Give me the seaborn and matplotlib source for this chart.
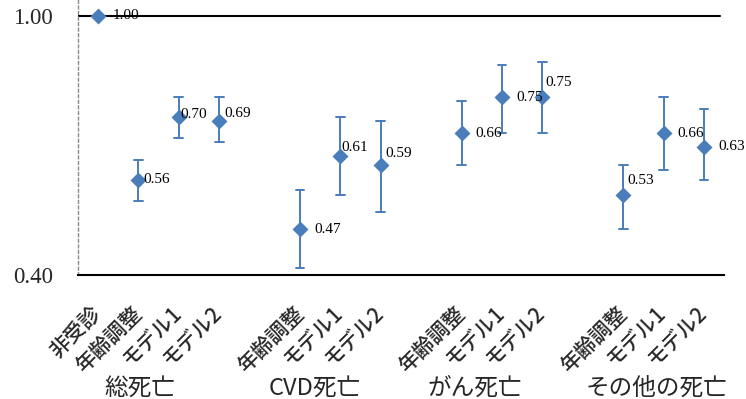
import numpy as np
import pandas as pd
import matplotlib
matplotlib.use("Agg")
import matplotlib.pyplot as plt
import matplotlib.transforms as mtransforms
from matplotlib.ticker import NullLocator
import seaborn as sns

# ---- data ----
groups = ["総死亡", "CVD死亡", "がん死亡", "その他の死亡"]
group_items = [
    ["非受診", "年齢調整", "モデル1", "モデル2"],
    ["年齢調整", "モデル1", "モデル2"],
    ["年齢調整", "モデル1", "モデル2"],
    ["年齢調整", "モデル1", "モデル2"],
]
hr = [1.00, 0.56, 0.70, 0.69, 0.47, 0.61, 0.59, 0.66, 0.75, 0.75, 0.53, 0.66, 0.63]
ci_low = [None, 0.52, 0.65, 0.64, 0.41, 0.53, 0.50, 0.59, 0.66, 0.66, 0.47, 0.58, 0.56]
ci_high = [None, 0.60, 0.75, 0.75, 0.54, 0.70, 0.69, 0.74, 0.84, 0.85, 0.59, 0.75, 0.72]
y_ticks = [0.40, 1.00]
y_tick_labels = ["0.40", "1.00"]

# ---- label placement (pixels right / up of the marker) ----
label_offsets = [(15, 0), (5, 0), (2, 2), (5, 7), (14, 0), (1, 8), (5, 12),
                 (14, 0), (14, 0), (3, 15), (4, 15), (14, 0), (14, 0)]
group_label_x = [1.04, 5.37, 9.33, 13.81]

# ---- build long-form table ----
order = []
labels = []
rows = []
k = 0
for gi, (g, items) in enumerate(zip(groups, group_items)):
    if gi > 0:
        order.append(f"gap{gi}")
        labels.append(None)
    for it in items:
        key = f"{g}|{it}"
        order.append(key)
        labels.append(it)
        vals = [hr[k]]
        if ci_low[k] is not None:
            vals = [ci_low[k], hr[k], ci_high[k]]
        for v in vals:
            rows.append({"cat": key, "value": v})
        k += 1
df = pd.DataFrame(rows)

sns.set_style("white")
plt.rcParams["font.family"] = ["Liberation Serif", "Noto Sans CJK JP", "DejaVu Sans"]

color = "#4A7EBB"
fig = plt.figure(figsize=(7.46, 3.99), dpi=100)
ax = fig.add_axes([0.1043, 0.3108, 0.8665, 0.6892])

sns.pointplot(data=df, x="cat", y="value", order=order,
              estimator="median", errorbar=lambda v: (v.min(), v.max()),
              log_scale=True, color=color, marker="D", markersize=6.2,
              linestyle="none", capsize=0.22,
              err_kws={"linewidth": 1.4, "color": color}, ax=ax)

ax.set_xlim(-0.5, 15.5)
ax.set_ylim(0.40, 1.058)
ax.set_yticks(y_ticks)
ax.set_yticklabels(y_tick_labels, fontsize=16.5, family="Liberation Serif")
ax.yaxis.set_minor_locator(NullLocator())
ax.tick_params(axis="y", length=0, pad=18)
ax.set_xlabel("")
ax.set_ylabel("")

# reference line at 1.00
ax.axhline(1.0, xmin=0, xmax=0.994, color="black", linewidth=1.5, zorder=1)

# spines
for s in ["top", "right"]:
    ax.spines[s].set_visible(False)
ax.spines["left"].set_color("#8a8a8a")
ax.spines["left"].set_linestyle((0, (2, 2)))
ax.spines["left"].set_linewidth(1.0)
ax.spines["bottom"].set_color("black")
ax.spines["bottom"].set_linewidth(1.5)

# x tick labels
pos = [i for i, l in enumerate(labels) if l is not None]
ax.set_xticks(pos)
ax.set_xticklabels([labels[i] for i in pos], rotation=45, ha="right",
                   va="center", rotation_mode="anchor", fontsize=15,
                   family=["Noto Sans CJK JP"], fontweight="medium")
ax.tick_params(axis="x", length=0, pad=25)

# value labels
for i, (p, v) in enumerate(zip(pos, hr)):
    dx, dy = label_offsets[i]
    ax.annotate(f"{v:.2f}", xy=(p, v), xytext=(dx * 0.72, dy * 0.72),
                textcoords="offset points", ha="left", va="center",
                fontsize=11, family="Liberation Serif", color="black")

# group labels
trans = mtransforms.blended_transform_factory(ax.transData, fig.transFigure)
for gx, g in zip(group_label_x, groups):
    ax.text(gx, 0.028, g, transform=trans, ha="center", va="center",
            fontsize=17, family=["Noto Sans CJK JP"])

fig.savefig("out.png", dpi=100)
